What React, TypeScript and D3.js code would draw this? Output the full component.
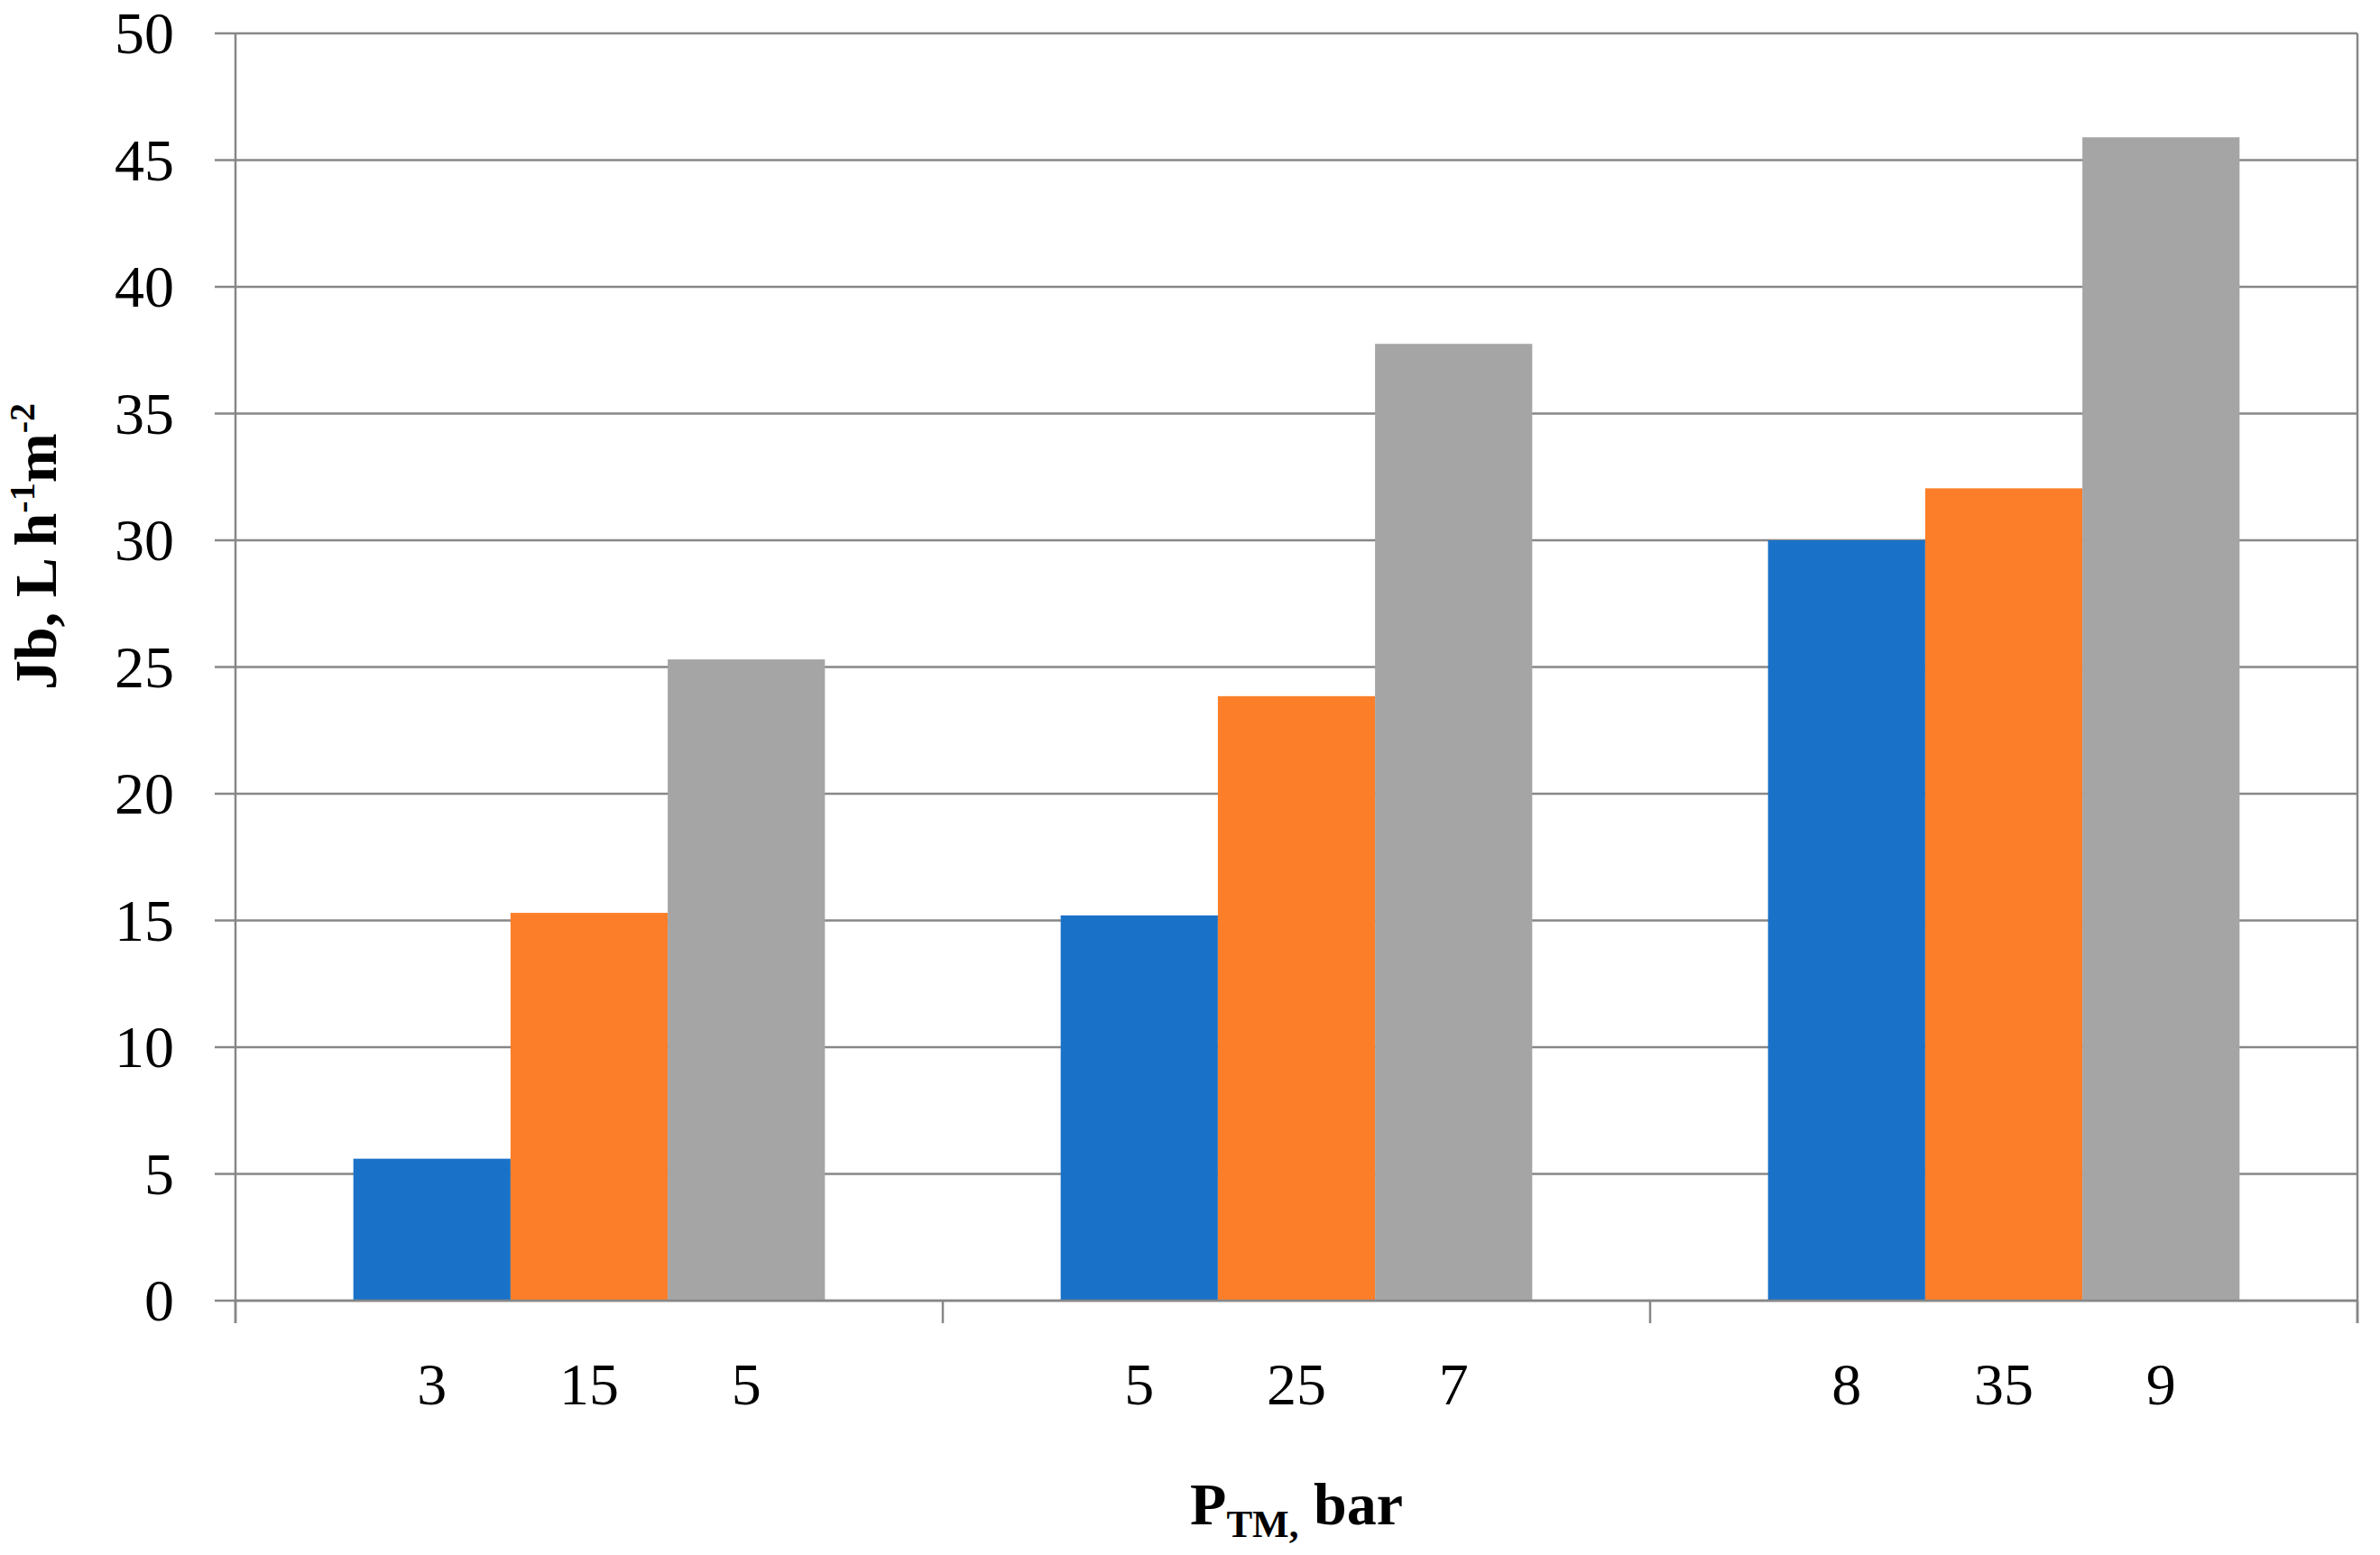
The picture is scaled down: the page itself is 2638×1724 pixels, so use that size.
import React from "react";
import * as d3 from "d3";

const groups = ["G1", "G2", "G3"];
const seriesNames = ["A", "B", "C"];
const seriesColors = ["#1A72C8", "#FD7E29", "#A5A5A5"];
const valuesA = [5.6, 15.2, 30.0];
const valuesB = [15.3, 23.85, 32.05];
const valuesC = [25.3, 37.75, 45.9];
const barLabels = [
  ["3", "15", "5"],
  ["5", "25", "7"],
  ["8", "35", "9"],
];
const yTicks = [0, 5, 10, 15, 20, 25, 30, 35, 40, 45, 50];

const W = 2638;
const H = 1724;
const left = 261;
const right = 2613;
const top = 37;
const bottom = 1442;
const FONT = "'Liberation Serif', 'Times New Roman', serif";
const GRID = "#878787";

export default function App() {
  const series = [valuesA, valuesB, valuesC];
  const x0 = d3.scaleBand<string>().domain(groups).range([left, right]).paddingInner(0).paddingOuter(0);
  const x1 = d3
    .scaleBand<string>()
    .domain(seriesNames)
    .range([0, x0.bandwidth()])
    .paddingInner(0)
    .paddingOuter(0.75);
  const y = d3.scaleLinear().domain([0, 50]).range([bottom, top]);

  const boundaries = [left, ...groups.map((g) => (x0(g) as number) + x0.bandwidth())];

  return (
    <svg
      width={W}
      height={H}
      viewBox={`0 0 ${W} ${H}`}
      style={{ position: "absolute", left: 0, top: 0, background: "#fff" }}
    >
      <rect x={0} y={0} width={W} height={H} fill="#fff" />
      {/* gridlines + y ticks */}
      {yTicks.map((t) => (
        <g key={t}>
          <line x1={left - 23} x2={right} y1={y(t)} y2={y(t)} stroke={GRID} strokeWidth={2.5} />
          <text
            x={193}
            y={y(t)}
            dy="0.34em"
            textAnchor="end"
            fontFamily={FONT}
            fontSize={66}
            fill="#000"
          >
            {t}
          </text>
        </g>
      ))}
      {/* bars */}
      {groups.map((g, gi) =>
        seriesNames.map((s, si) => {
          const v = series[si][gi];
          const bx = (x0(g) as number) + (x1(s) as number);
          return (
            <rect
              key={g + s}
              x={bx}
              y={y(v)}
              width={x1.bandwidth()}
              height={y(0) - y(v)}
              fill={seriesColors[si]}
            />
          );
        })
      )}
      {/* axes */}
      <line x1={left} x2={left} y1={top} y2={bottom + 25} stroke={GRID} strokeWidth={2.5} />
      <line x1={right} x2={right} y1={top} y2={bottom + 25} stroke={GRID} strokeWidth={2.5} />
      <line x1={left} x2={right} y1={bottom} y2={bottom} stroke={GRID} strokeWidth={2.5} />
      {boundaries.map((b, i) => (
        <line key={i} x1={b} x2={b} y1={bottom} y2={bottom + 25} stroke={GRID} strokeWidth={2.5} />
      ))}
      {/* x tick labels */}
      {groups.map((g, gi) =>
        seriesNames.map((s, si) => (
          <text
            key={"l" + g + s}
            x={(x0(g) as number) + (x1(s) as number) + x1.bandwidth() / 2}
            y={1557}
            textAnchor="middle"
            fontFamily={FONT}
            fontSize={66}
            fill="#000"
          >
            {barLabels[gi][si]}
          </text>
        ))
      )}
      {/* x title */}
      <text
        x={(left + right) / 2}
        y={1690}
        textAnchor="middle"
        fontFamily={FONT}
        fontSize={66}
        fontWeight="bold"
        fill="#000"
      >
        P
        <tspan fontSize={43} dy={14}>
          TM,
        </tspan>
        <tspan dy={-14}> bar</tspan>
      </text>
      {/* y title */}
      <text
        transform={`translate(62,606) rotate(-90)`}
        textAnchor="middle"
        fontFamily={FONT}
        fontSize={66}
        fontWeight="bold"
        fill="#000"
      >
        Jb, L h
        <tspan fontSize={40} dy={-24}>
          -1
        </tspan>
        <tspan dy={24}>m</tspan>
        <tspan fontSize={40} dy={-24}>
          -2
        </tspan>
      </text>
    </svg>
  );
}
